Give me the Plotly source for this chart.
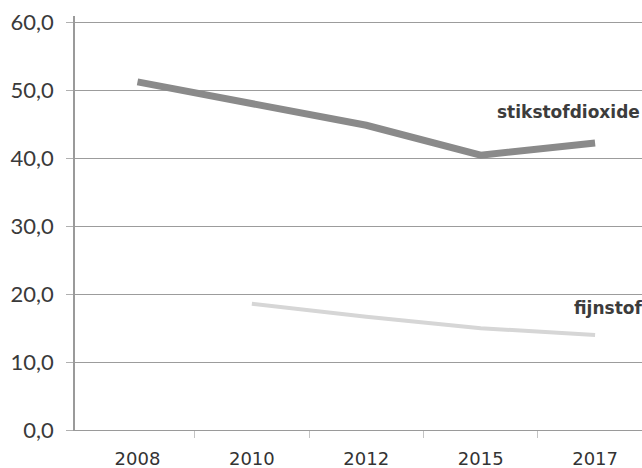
import plotly.graph_objects as go

# Luchtkwaliteit: gemiddelde concentraties per meetjaar
years = ["2008", "2010", "2012", "2015", "2017"]
stikstofdioxide = [51.3, 48.0, 44.9, 40.5, 42.3]
fijnstof = [None, 18.6, 16.7, 15.0, 14.0]
y_ticks = [0, 10, 20, 30, 40, 50, 60]

pos = list(range(len(years)))

fig = go.Figure()
fig.add_trace(go.Scatter(
    x=pos, y=fijnstof, mode="lines",
    line=dict(color="#d6d6d6", width=4),
    connectgaps=False, showlegend=False, hoverinfo="skip",
))
fig.add_trace(go.Scatter(
    x=pos, y=stikstofdioxide, mode="lines",
    line=dict(color="#8a8a8a", width=7),
    showlegend=False, hoverinfo="skip",
))

label_font = dict(family="DejaVu Sans", size=17, color="#3c3c3c", weight="bold")
fig.add_annotation(x=3.125, y=46.8, text="stikstofdioxide", showarrow=False,
                   xanchor="left", yanchor="middle", font=label_font)
fig.add_annotation(x=3.80, y=18.0, text="fijnstof", showarrow=False,
                   xanchor="left", yanchor="middle", font=label_font)

fig.update_layout(
    width=642, height=468,
    margin=dict(l=75, r=0, t=16, b=38),
    paper_bgcolor="white", plot_bgcolor="white",
    separators=",.",
    xaxis=dict(
        range=[-0.546, 4.41],
        tickmode="array", tickvals=pos, ticktext=years,
        ticks="", showgrid=False, zeroline=False,
        showline=True, linecolor="#9a9a9a", linewidth=1,
        tickfont=dict(family="DejaVu Sans", size=18, color="#333333"),
        ticklabelstandoff=12,
        minor=dict(tickmode="array", tickvals=[0.5, 1.5, 2.5, 3.5],
                   ticks="outside", ticklen=7, tickcolor="#c4c4c4",
                   tickwidth=1, showgrid=False),
    ),
    yaxis=dict(
        range=[0, 61],
        tickmode="array", tickvals=y_ticks, tickformat=".1f",
        ticks="outside", ticklen=7, tickcolor="#b0b0b0", tickwidth=1,
        showgrid=True, gridcolor="#9c9c9c", gridwidth=1,
        zeroline=False,
        showline=True, linecolor="#9a9a9a", linewidth=1.5,
        tickfont=dict(family="Lato", size=22, color="#3a3a3a"),
        ticklabelstandoff=8,
    ),
)

fig.write_html("out.html")
